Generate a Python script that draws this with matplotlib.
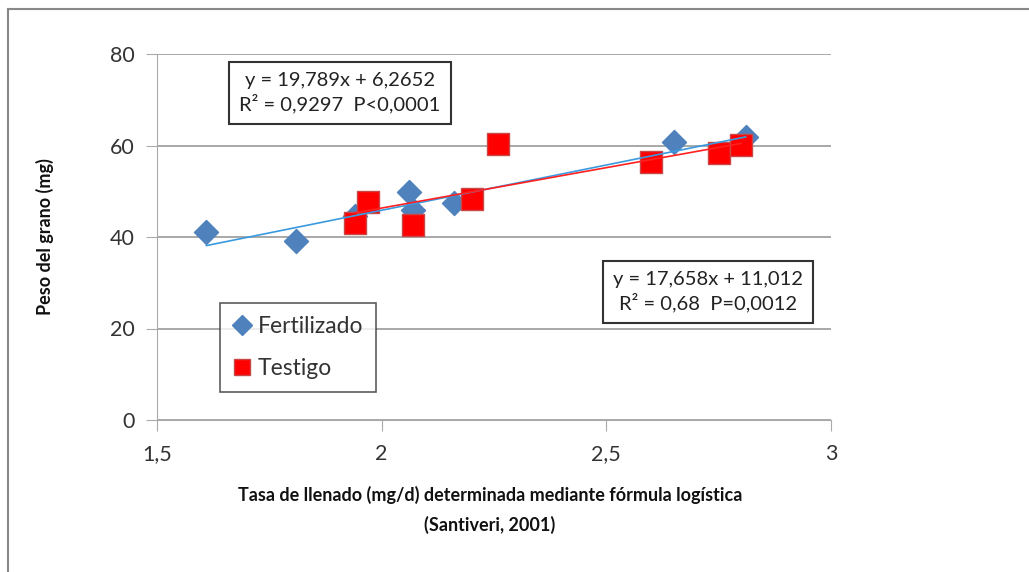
import numpy as np
import matplotlib
matplotlib.use('Agg')
import matplotlib.pyplot as plt
from matplotlib.lines import Line2D

plt.rcParams['font.family'] = ['Lato', 'DejaVu Sans']

# Data
fert_x = [1.61, 1.81, 1.94, 2.06, 2.07, 2.16, 2.65, 2.81]
fert_y = [41.0, 39.2, 44.5, 49.8, 45.8, 47.4, 60.8, 61.8]
test_x = [1.94, 1.97, 2.07, 2.20, 2.26, 2.60, 2.75, 2.80]
test_y = [43.1, 47.6, 42.6, 48.3, 60.3, 56.4, 58.4, 60.1]

# trend line coefficients as printed in the chart
fert_fit = (19.789, 6.2652)
test_fit = (17.658, 11.012)
fert_text = 'y = 19,789x + 6,2652\nR² = 0,9297  P<0,0001'
test_text = 'y = 17,658x + 11,012\nR² = 0,68  P=0,0012'

xticks = [1.5, 2, 2.5, 3]
xticklabels = ['1,5', '2', '2,5', '3']
yticks = [0, 20, 40, 60, 80]

fig = plt.figure(figsize=(10.29, 5.72), dpi=100)
fig.patch.set_facecolor('white')
ax = fig.add_axes([157/1029, 1 - 420/572, (831-157)/1029, (420-54)/572])

# outer frame (only top and left visible)
fig.add_artist(Line2D([8/1029, 8/1029], [0, 1 - 9/572], color='#888888', lw=1.5))
fig.add_artist(Line2D([8/1029, 1], [1 - 9/572, 1 - 9/572], color='#888888', lw=1.5))

ax.set_xlim(1.5, 3)
ax.set_ylim(0, 80)
ax.set_yticks(yticks)
ax.set_xticks(xticks)
ax.set_xticklabels(xticklabels)
ax.grid(axis='y', color='#999999', lw=1.2)
ax.set_axisbelow(True)
for s in ['top', 'right']:
    ax.spines[s].set_visible(False)
ax.spines['left'].set_color('#aaaaaa')
ax.spines['bottom'].set_color('#aaaaaa')
ax.tick_params(axis='both', colors='#aaaaaa', labelcolor='#333333', labelsize=15.5, length=8)
ax.tick_params(axis='x', pad=9)
ax.tick_params(axis='y', pad=8)

ax.scatter(fert_x, fert_y, marker='D', s=150, color='#4F81BD', edgecolors='#4F81BD', zorder=3, label='Fertilizado')
ax.scatter(test_x, test_y, marker='s', s=230, color='#FF0000', edgecolors='#C84848', linewidths=1, zorder=4, label='Testigo')

# trend lines
xf = np.array([min(fert_x), max(fert_x)])
ax.plot(xf, fert_fit[0] * xf + fert_fit[1], color='#3A9AE0', lw=1.2, zorder=5)
xt = np.array([min(test_x), max(test_x)])
ax.plot(xt, test_fit[0] * xt + test_fit[1], color='#FF2020', lw=1.2, zorder=5)

box = dict(boxstyle='square,pad=0.5', facecolor='white', edgecolor='#333333', lw=1.5)
ax.text(1.907, 71.5, fert_text, ha='center', va='center', fontsize=14.5, linespacing=1.3,
        color='#222222', bbox=box, zorder=6)
ax.text(2.726, 28.0, test_text, ha='center', va='center', fontsize=14.5, linespacing=1.3,
        color='#222222', bbox=box, zorder=6)

handles = [Line2D([], [], marker='D', ls='', color='#4F81BD', markersize=10),
           Line2D([], [], marker='s', ls='', color='#FF0000', markeredgecolor='#C84848', markersize=12)]
leg = ax.legend(handles, ['Fertilizado', 'Testigo'], loc='upper left',
                bbox_to_anchor=(63/674, 1 - (303-54)/366), fontsize=16.5, frameon=True,
                fancybox=False, edgecolor='#333333', handlelength=0.8, handletextpad=0.3,
                labelspacing=0.95, borderpad=0.55, borderaxespad=0)
leg.get_frame().set_linewidth(1.2)
for t in leg.get_texts():
    t.set_color('#333333')

fig.text(490/1029, 1 - 495/572, 'Tasa de llenado (mg/d) determinada mediante fórmula logística',
         ha='center', va='center', fontsize=13, fontweight='bold', color='#111111')
fig.text(490/1029, 1 - 525/572, '(Santiveri, 2001)',
         ha='center', va='center', fontsize=13, fontweight='bold', color='#111111')
fig.text(45/1029, 1 - 237/572, 'Peso del grano (mg)', rotation=90,
         ha='center', va='center', fontsize=13, fontweight='bold', color='#111111')

fig.savefig('out.png', dpi=100, facecolor='white')
